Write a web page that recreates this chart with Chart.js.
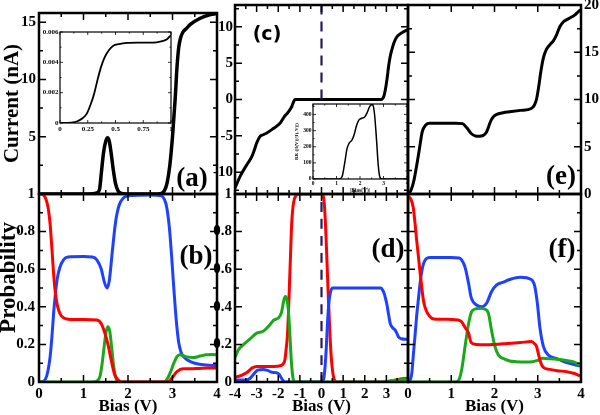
<!DOCTYPE html>
<html>
<head>
<meta charset="utf-8">
<script src="https://cdn.jsdelivr.net/npm/chart.js@4.4.0/dist/chart.umd.min.js"></script>
<style>
  body { margin: 0; background: #fff; }
  #wrap { position: relative; width: 600px; height: 415px; }
  #wrap canvas { position: absolute; left: 0; top: 0; }
</style>
</head>
<body>
<div id="wrap">
  <canvas id="pa" width="600" height="415"></canvas>
  <canvas id="pb" width="600" height="415"></canvas>
  <canvas id="pc" width="600" height="415"></canvas>
  <canvas id="pd" width="600" height="415"></canvas>
  <canvas id="pe" width="600" height="415"></canvas>
  <canvas id="pf" width="600" height="415"></canvas>
  <canvas id="ia" width="600" height="415"></canvas>
  <canvas id="ic" width="600" height="415"></canvas>
</div>
<script>
// ---- data: [bias, value] ----
const currentA = [[0,0],[0.5,0],[1.0,0],[1.2,0.02],[1.3,0.1],[1.36,0.4],[1.4,1.8],[1.45,3.6],[1.5,4.6],[1.54,4.9],
  [1.58,4.6],[1.62,3.6],[1.67,2.1],[1.72,0.9],[1.78,0.25],[1.85,0.05],[1.95,0],[2.3,0],[2.6,0],[2.75,0.05],
  [2.82,0.3],[2.88,1.0],[2.94,2.5],[3.0,5.0],[3.06,8.3],[3.1,11.0],[3.14,12.8],[3.18,13.6],[3.23,14.1],[3.3,14.4],
  [3.4,14.8],[3.6,15.3],[3.8,15.6],[4.0,15.75]];

const redB = [[0,1],[0.1,0.995],[0.16,0.97],[0.21,0.92],[0.25,0.84],[0.29,0.71],[0.33,0.57],[0.37,0.47],[0.42,0.4],
  [0.48,0.36],[0.56,0.34],[0.7,0.333],[1.0,0.333],[1.3,0.33],[1.4,0.31],[1.48,0.26],[1.55,0.2],[1.62,0.12],
  [1.7,0.04],[1.78,0.01],[1.85,0],[2.5,0],[2.9,0],[3.0,0.025],[3.1,0.055],[3.24,0.07],[3.4,0.07],[3.6,0.072],
  [3.8,0.074],[4.0,0.075]];
const blueB = [[0,0],[0.1,0.003],[0.17,0.03],[0.21,0.07],[0.25,0.135],[0.29,0.24],[0.33,0.37],[0.37,0.47],
  [0.41,0.55],[0.47,0.61],[0.55,0.65],[0.65,0.665],[1.0,0.667],[1.2,0.665],[1.3,0.65],[1.4,0.6],[1.47,0.53],
  [1.53,0.5],[1.58,0.54],[1.65,0.7],[1.72,0.85],[1.8,0.94],[1.9,0.98],[2.0,0.99],[2.5,0.995],[2.75,0.99],
  [2.82,0.97],[2.87,0.93],[2.93,0.82],[2.98,0.67],[3.02,0.53],[3.06,0.4],[3.1,0.29],[3.14,0.21],[3.19,0.16],
  [3.25,0.135],[3.35,0.115],[3.5,0.1],[3.75,0.09],[4.0,0.088]];
const greenB = [[0,0],[1.2,0],[1.3,0.005],[1.37,0.03],[1.42,0.1],[1.47,0.2],[1.51,0.27],[1.55,0.294],[1.59,0.27],
  [1.63,0.19],[1.68,0.08],[1.73,0.02],[1.78,0.003],[1.85,0],[2.8,0],[2.88,0.015],[2.95,0.05],[3.03,0.1],
  [3.1,0.135],[3.16,0.145],[3.3,0.135],[3.47,0.13],[3.62,0.138],[3.77,0.145],[3.9,0.146],[4.0,0.144]];

const currentC = [[-4,-12.2],[-3.77,-10.6],[-3.46,-9.0],[-3.23,-7.9],[-3.1,-6.9],[-3.0,-6.0],[-2.85,-5.1],
  [-2.7,-4.85],[-2.53,-4.6],[-2.23,-4.0],[-2.0,-3.5],[-1.88,-3.1],[-1.77,-2.6],[-1.68,-2.2],[-1.58,-1.9],
  [-1.48,-1.5],[-1.38,-1.0],[-1.3,-0.4],[-1.23,0],[0,0],[2.7,0],[2.8,0.05],[2.88,0.4],[2.95,1.3],[3.03,2.8],
  [3.1,4.5],[3.17,5.8],[3.25,6.8],[3.35,7.8],[3.48,8.6],[3.62,9.0],[3.79,9.3],[4,9.6]];
const zeroC = [[0,0],[0,13]];

const redD = [[-4,0.025],[-3.7,0.035],[-3.45,0.05],[-3.2,0.075],[-3.0,0.083],[-2.6,0.083],[-2.2,0.083],
  [-1.9,0.087],[-1.78,0.095],[-1.69,0.12],[-1.63,0.18],[-1.58,0.24],[-1.53,0.36],[-1.49,0.49],[-1.44,0.65],
  [-1.38,0.84],[-1.32,0.93],[-1.25,0.975],[-1.15,0.995],[-1.0,1.0],[0,1.0],[0.08,0.99],[0.14,0.93],[0.2,0.8],
  [0.26,0.62],[0.32,0.44],[0.38,0.28],[0.44,0.15],[0.5,0.07],[0.57,0.02],[0.65,0.003],[0.75,0],[2.8,0],
  [3.2,0.005],[3.6,0.015],[4,0.02]];
const blueD = [[-4,0.01],[-3.5,0.01],[-3.3,0.02],[-3.15,0.04],[-2.95,0.063],[-2.7,0.066],[-2.5,0.062],
  [-2.3,0.052],[-2.1,0.05],[-1.95,0.04],[-1.85,0.02],[-1.75,0.005],[-1.65,0],[0,0],[0.08,0.005],[0.15,0.06],
  [0.22,0.18],[0.28,0.32],[0.34,0.42],[0.42,0.48],[0.52,0.5],[1.0,0.5],[2.0,0.5],[2.75,0.5],[2.82,0.49],
  [2.9,0.47],[2.97,0.44],[3.03,0.41],[3.1,0.36],[3.18,0.31],[3.28,0.29],[3.4,0.277],[3.48,0.26],[3.56,0.24],
  [3.7,0.23],[3.87,0.227],[4,0.227]];
const greenD = [[-4,0.13],[-3.85,0.17],[-3.6,0.2],[-3.3,0.23],[-3.0,0.26],[-2.7,0.27],[-2.5,0.29],[-2.35,0.31],
  [-2.2,0.33],[-2.0,0.34],[-1.85,0.37],[-1.75,0.43],[-1.68,0.455],[-1.6,0.44],[-1.53,0.38],[-1.47,0.27],
  [-1.4,0.12],[-1.33,0.03],[-1.24,0],[2.9,0],[3.3,0.008],[3.7,0.012],[4,0.015]];
const zeroD = [[0,0],[0,1]];

const currentE = [[0,0],[0.07,0.4],[0.14,1.5],[0.2,3.0],[0.26,4.65],[0.33,6.6],[0.41,7.3],[0.5,7.5],[0.8,7.5],
  [1.1,7.5],[1.26,7.45],[1.36,7.0],[1.46,6.4],[1.55,6.15],[1.65,6.1],[1.74,6.2],[1.81,6.5],[1.87,7.2],[1.92,7.8],
  [1.98,8.2],[2.04,8.4],[2.2,8.6],[2.35,8.7],[2.6,8.85],[2.85,9.05],[2.92,9.4],[2.97,10.0],[3.02,11.3],
  [3.07,12.9],[3.13,14.4],[3.2,15.3],[3.28,15.8],[3.36,16.2],[3.44,16.9],[3.51,17.7],[3.59,18.2],[3.67,18.45],
  [3.77,18.7],[3.86,18.95],[3.94,19.3],[4.0,19.5]];

const redF = [[0,0.99],[0.06,0.975],[0.12,0.93],[0.16,0.85],[0.2,0.755],[0.24,0.67],[0.28,0.58],[0.32,0.5],
  [0.36,0.43],[0.42,0.38],[0.5,0.35],[0.6,0.335],[1.0,0.333],[1.15,0.33],[1.24,0.32],[1.32,0.29],[1.4,0.26],
  [1.46,0.21],[1.57,0.2],[1.8,0.198],[2.0,0.2],[2.3,0.205],[2.6,0.21],[2.85,0.215],[2.92,0.205],[2.97,0.19],
  [3.01,0.155],[3.05,0.117],[3.12,0.08],[3.28,0.067],[3.45,0.06],[3.67,0.055],[3.85,0.045],[3.98,0.032]];
const blueF = [[0,0],[0.05,0.01],[0.09,0.05],[0.12,0.135],[0.16,0.24],[0.2,0.35],[0.24,0.44],[0.28,0.525],
  [0.32,0.59],[0.36,0.63],[0.42,0.655],[0.5,0.662],[1.0,0.662],[1.18,0.66],[1.24,0.65],[1.32,0.61],[1.4,0.525],
  [1.46,0.45],[1.58,0.41],[1.7,0.4],[1.82,0.42],[1.93,0.48],[2.05,0.516],[2.19,0.53],[2.35,0.545],[2.59,0.557],
  [2.85,0.545],[2.93,0.51],[2.99,0.42],[3.05,0.29],[3.13,0.19],[3.24,0.144],[3.43,0.126],[3.67,0.103],
  [3.98,0.085]];
const greenF = [[0,0],[1.1,0],[1.16,0.005],[1.24,0.064],[1.32,0.19],[1.4,0.31],[1.47,0.374],[1.58,0.39],
  [1.68,0.392],[1.77,0.388],[1.86,0.365],[1.93,0.277],[2.01,0.19],[2.09,0.144],[2.19,0.126],[2.35,0.112],
  [2.5,0.108],[2.7,0.106],[2.88,0.108],[3.0,0.115],[3.12,0.126],[3.3,0.123],[3.5,0.12],[3.65,0.115],
  [3.81,0.108],[3.98,0.09]];

// insets
const insetA = [[0,0],[0.1,0.00002],[0.15,0.0001],[0.2,0.0003],[0.24,0.0006],[0.28,0.0013],[0.31,0.002],
  [0.34,0.0029],[0.37,0.0037],[0.4,0.0043],[0.44,0.0048],[0.48,0.0051],[0.53,0.0052],[0.6,0.00528],
  [0.7,0.0053],[0.8,0.0053],[0.87,0.00532],[0.92,0.0054],[0.96,0.0055],[1.0,0.0058]];
const ratioC = [[0,0],[1.0,0],[1.15,2],[1.25,20],[1.35,100],[1.45,190],[1.55,225],[1.65,240],[1.75,275],
  [1.85,330],[1.95,365],[2.05,375],[2.2,385],[2.3,410],[2.4,445],[2.5,462],[2.55,458],[2.62,400],[2.7,250],
  [2.78,80],[2.85,10],[2.95,0],[4,0]];

const RED = '#ff0000', BLUE = '#2040ff', GREEN = '#1aa81a', DASH = '#2b1a5a';
const serif = 'Liberation Serif';
const tickFont = {family: serif, weight: 'bold', size: 15};

// frame with inward ticks on all four sides (xmgrace look), plus panel letters
function deco(o, items) {
  return {
    id: 'deco',
    beforeDraw(chart) {
      if (!o.fill) return;
      const a = chart.chartArea, ctx = chart.ctx;
      ctx.save();
      ctx.fillStyle = '#fff';
      ctx.fillRect(a.left, a.top, a.width, a.height);
      ctx.restore();
    },
    afterDraw(chart) {
      const ctx = chart.ctx, a = chart.chartArea;
      ctx.save();
      ctx.strokeStyle = '#000';
      ctx.lineWidth = o.tw;
      [chart.scales.x, chart.scales.y].forEach(sc => {
        const step = sc.options.ticks.stepSize, half = step / 2;
        for (let v = Math.ceil(sc.min / half - 1e-9) * half; v <= sc.max + 1e-9; v += half) {
          const len = Math.abs(v / step - Math.round(v / step)) < 1e-6 ? o.major : o.minor;
          const p = sc.getPixelForValue(v);
          ctx.beginPath();
          if (sc.isHorizontal()) {
            ctx.moveTo(p, a.bottom); ctx.lineTo(p, a.bottom - len);
            ctx.moveTo(p, a.top); ctx.lineTo(p, a.top + len);
          } else {
            ctx.moveTo(a.left, p); ctx.lineTo(a.left + len, p);
            ctx.moveTo(a.right, p); ctx.lineTo(a.right - len, p);
          }
          ctx.stroke();
        }
      });
      ctx.lineWidth = o.bw;
      ctx.strokeRect(a.left, a.top, a.width, a.height);

      ctx.fillStyle = '#000';
      ctx.textAlign = 'center';
      ctx.textBaseline = 'middle';
      (items || []).forEach(t => {
        const x = t.px ? t.x : chart.scales.x.getPixelForValue(t.x);
        const y = t.px ? t.y : chart.scales.y.getPixelForValue(t.y);
        ctx.save();
        ctx.translate(x, y);
        ctx.rotate(t.rot || 0);
        ctx.font = t.f;
        ctx.fillText(t.text, 0, 0);
        ctx.restore();
      });
      ctx.restore();
    }
  };
}

function fit(w, h) {
  return s => {
    if (w !== undefined) s.width = w;
    if (h !== undefined) s.height = h;
    s.paddingLeft = s.paddingRight = s.paddingTop = s.paddingBottom = 0;
  };
}

function axis(o) {
  return {
    type: 'linear', position: o.pos, min: o.min, max: o.max,
    afterFit: fit(o.w, o.h),
    grid: {display: false, drawTicks: false},
    border: {display: false},
    ticks: {
      display: !!o.labels, stepSize: o.step, includeBounds: false, autoSkip: false, maxRotation: 0,
      font: o.font || tickFont, color: '#000', padding: o.pad === undefined ? 3 : o.pad, callback: o.cb
    },
    title: o.title || {display: false}
  };
}

function line(pts, color, width, dash) {
  return {
    data: pts.map(p => ({x: p[0], y: p[1]})),
    borderColor: color, borderWidth: width || 3, borderDash: dash || [],
    pointRadius: 0, fill: false, cubicInterpolationMode: 'monotone'
  };
}

function panel(id, datasets, x, y, pad, frameOpts, items) {
  return new Chart(document.getElementById(id), {
    type: 'line',
    data: {datasets},
    options: {
      responsive: false, animation: false, devicePixelRatio: 1,
      layout: {padding: pad},
      scales: {x, y},
      plugins: {legend: {display: false}, tooltip: {enabled: false}}
    },
    plugins: [deco(frameOpts, items)]
  });
}

const mainFrame = {major: 7, minor: 4, tw: 1.5, bw: 2.5};
const insetFrame = {major: 3, minor: 1.6, tw: 0.8, bw: 1.2, fill: true};
const biasTitle = {display: true, text: 'Bias (V)', color: '#000', padding: 0,
  font: {family: serif, weight: 'bold', size: 17, lineHeight: 1}};

// (a)
panel('pa', [line(currentA, '#000', 3.5)],
  axis({pos: 'bottom', min: 0, max: 4, step: 1, h: 0}),
  axis({pos: 'left', min: 0, max: 15.8, step: 5, w: 39, labels: true, cb: v => v === 0 ? '' : v,
    title: {display: true, text: 'Current (nA)', color: '#000', padding: {top: 4.4, bottom: 0},
      font: {family: serif, weight: 'bold', size: 21, lineHeight: 0.8}}}),
  {left: 0, top: 13, right: 383, bottom: 221}, mainFrame,
  [{text: '(a)', x: 3.44, y: 1.35, f: 'bold 27px "Liberation Serif"'}]);

// (b)
panel('pb', [line(redB, RED), line(greenB, GREEN), line(blueB, BLUE)],
  axis({pos: 'bottom', min: 0, max: 4, step: 1, h: 33, labels: true, title: biasTitle}),
  axis({pos: 'left', min: 0, max: 1, step: 0.2, w: 39, labels: true, pad: 4}),
  {left: 0, top: 194, right: 383, bottom: 0}, mainFrame,
  [{text: '(b)', x: 3.53, y: 0.665, f: 'bold 27px "Liberation Serif"'},
   {text: 'Probability', px: true, x: 8.8, y: 277.5, rot: -Math.PI / 2, f: 'bold 23px "Liberation Serif"'}]);

// (c)
panel('pc', [line(zeroC, DASH, 2.2, [10, 7]), line(currentC, '#000', 3)],
  axis({pos: 'bottom', min: -4, max: 4, step: 1, h: 0}),
  axis({pos: 'left', min: -13, max: 13, step: 5, w: 30, labels: true, pad: 2}),
  {left: 205, top: 5, right: 192, bottom: 221}, mainFrame,
  [{text: '(c)', x: -2.52, y: 8.9, f: 'bold 19px "DejaVu Sans"'}]);

// (d)
panel('pd', [line(zeroD, DASH, 2.2, [10, 7]), line(greenD, GREEN), line(blueD, BLUE), line(redD, RED)],
  axis({pos: 'bottom', min: -4, max: 4, step: 1, h: 33, labels: true, cb: v => v === 4 ? '' : v, title: biasTitle}),
  axis({pos: 'left', min: 0, max: 1, step: 0.2, w: 30, labels: true, pad: 3}),
  {left: 205, top: 194, right: 192, bottom: 0}, mainFrame,
  [{text: '(d)', x: 3.08, y: 0.70, f: 'bold 27px "Liberation Serif"'}]);

// (e)
panel('pe', [line(currentE, '#000', 3)],
  axis({pos: 'bottom', min: 0, max: 4, step: 1, h: 0}),
  axis({pos: 'right', min: 0, max: 20, step: 5, w: 19, labels: true, pad: 3}),
  {left: 408, top: 5, right: 0, bottom: 221}, mainFrame,
  [{text: '(e)', x: 3.54, y: 1.8, f: 'bold 27px "Liberation Serif"'}]);

// (f)
panel('pf', [line(redF, RED), line(greenF, GREEN), line(blueF, BLUE)],
  axis({pos: 'bottom', min: 0, max: 4, step: 1, h: 33, labels: true, title: biasTitle}),
  axis({pos: 'left', min: 0, max: 1, step: 0.2, w: 0}),
  {left: 408, top: 194, right: 19, bottom: 0}, mainFrame,
  [{text: '(f)', x: 3.56, y: 0.70, f: 'bold 27px "Liberation Serif"'}]);

// inset of (a)
const tinyA = {family: serif, weight: 'bold', size: 7};
panel('ia', [line(insetA, '#000', 1.8)],
  axis({pos: 'bottom', min: 0, max: 1, step: 0.25, h: 10, labels: true, font: tinyA, pad: 1.5}),
  axis({pos: 'left', min: 0, max: 0.006, step: 0.002, w: 19, labels: true, font: tinyA, pad: 1.5}),
  {left: 41, top: 32, right: 429, bottom: 282}, insetFrame);

// inset of (c)
const tinyC = {family: serif, weight: 'bold', size: 5.5};
panel('ic', [line(ratioC, '#000', 1.5)],
  axis({pos: 'bottom', min: 0, max: 4, step: 1, h: 15, labels: true, font: tinyC, pad: 1.5,
    title: {display: true, text: '|Bias(V)|', color: '#000', padding: 0, font: {family: serif, weight: 'bold', size: 5.5, lineHeight: 1.2}}}),
  axis({pos: 'left', min: 0, max: 465, step: 100, w: 19, labels: true, font: tinyC, pad: 1.5,
    title: {display: true, text: 'RR (|I(V)|/|I(-V)|)', color: '#000', padding: {top: 0, bottom: 0}, font: {family: serif, weight: 'bold', size: 5, lineHeight: 1.2}}}),
  {left: 294, top: 104, right: 193, bottom: 221}, insetFrame);
</script>
</body>
</html>
